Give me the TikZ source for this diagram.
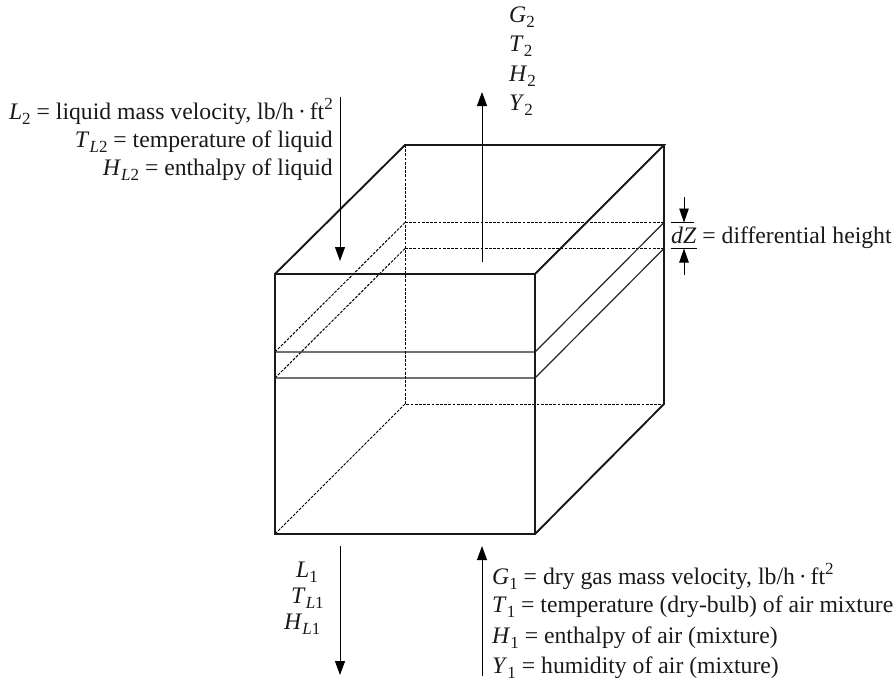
\documentclass[tikz,border=0pt]{standalone}
\usepackage{fontspec}
\setmainfont{Liberation Serif}
\usetikzlibrary{arrows.meta}
\newcommand{\sbx}[1]{\raisebox{-0.22em}{\fontsize{17}{17}\selectfont #1}}
\newcommand{\spx}[1]{\raisebox{0.42em}{\fontsize{17}{17}\selectfont #1}}
\newcommand{\itx}[1]{\textit{#1}}
\tikzset{
  edgeheavy/.style={line width=1.9pt,line join=miter,draw=black!90},
  edgelight/.style={line width=1.2pt,draw=black!85},
  hiddenline/.style={line width=1pt,dash pattern=on 2.8pt off 1.4pt},
  flow/.style={line width=1pt,-{Triangle[length=14pt,width=10pt]}},
  tick/.style={line width=0.9pt,-{Triangle[length=14pt,width=9.5pt]}},
  lab/.style={inner sep=0pt,text=black!90,font=\fontsize{23.7}{26}\selectfont},
  labe/.style={lab,anchor=base east},
  labw/.style={lab,anchor=base west},
}
\begin{document}
\begin{tikzpicture}[x=1pt,y=-1pt]
\useasboundingbox (0,0) rectangle (896,681);
% corners
\coordinate (fa) at (275,274); \coordinate (fb) at (535,274);
\coordinate (fc) at (535,534); \coordinate (fd) at (275,534);
\coordinate (ba) at (405,145); \coordinate (bb) at (664,145);
\coordinate (bc) at (664,404); \coordinate (bd) at (405,404);
\coordinate (f1l) at (275,352); \coordinate (f1r) at (535,352);
\coordinate (f2l) at (275,378); \coordinate (f2r) at (535,378);
\coordinate (b1l) at (405,222.5); \coordinate (b1r) at (664,222.5);
\coordinate (b2l) at (405,248.5); \coordinate (b2r) at (664,248.5);
% hidden
\draw[hiddenline] (ba) -- (bd) -- (bc);
\draw[hiddenline] (bd) -- (fd);
\draw[hiddenline] (b1l) -- (b1r);
\draw[hiddenline] (b2l) -- (b2r);
\draw[hiddenline] (f1l) -- (b1l);
\draw[hiddenline] (f2l) -- (b2l);
% band
\draw[edgelight] (f1l) -- (f1r) -- (b1r);
\draw[edgelight] (f2l) -- (f2r) -- (b2r);
% box
\draw[edgeheavy] (fa) rectangle (fc);
\draw[edgeheavy] (fa) -- (ba) -- (bb) -- (fb);
\draw[edgeheavy] (bb) -- (bc) -- (fc);
% flows
\coordinate (lin0) at (340,97); \coordinate (lin1) at (340,261);
\draw[flow] (lin0) -- (lin1);
\coordinate (gout0) at (482,262); \coordinate (gout1) at (482,92);
\draw[flow] (gout0) -- (gout1);
\coordinate (lout0) at (340,546); \coordinate (lout1) at (340,675);
\draw[flow] (lout0) -- (lout1);
\coordinate (gin0) at (482,676); \coordinate (gin1) at (482,546);
\draw[flow] (gin0) -- (gin1);
% dZ
\coordinate (dzt0) at (684,197); \coordinate (dzt1) at (684,222.5);
\coordinate (dzb0) at (684,275); \coordinate (dzb1) at (684,248.5);
\draw[tick] (dzt0) -- (dzt1);
\draw[tick] (dzb0) -- (dzb1);
\coordinate (dzta) at (670.5,222.5); \coordinate (dztb) at (694,222.5);
\coordinate (dzba) at (670.5,248.5); \coordinate (dzbb) at (697,248.5);
\draw[line width=1pt] (dzta) -- (dztb);
\draw[line width=1pt] (dzba) -- (dzbb);
% labels
\node[labw] (dz) at (671,243) {\itx{dZ} = differential height};
\node[labe] (l2) at (333,119) {\itx{L}\sbx{2} = liquid mass velocity, lb/h\,·\,ft\spx{2}};
\node[labe] (tl2) at (333,147) {\itx{T}\sbx{\itx{L}2} = temperature of liquid};
\node[labe] (hl2) at (333,175) {\itx{H}\sbx{\itx{L}2} = enthalpy of liquid};
\node[labw] (g2) at (509,22) {\itx{G}\sbx{2}};
\node[labw] (t2) at (509,51) {\itx{T}\sbx{2}};
\node[labw] (h2) at (509,81) {\itx{H}\sbx{2}};
\node[labw] (y2) at (509,110) {\itx{Y}\sbx{2}};
\node[labw] (l1) at (296,577) {\itx{L}\sbx{1}};
\node[labw] (tl1) at (291,603) {\itx{T}\sbx{\itx{L}1}};
\node[labw] (hl1) at (284,629) {\itx{H}\sbx{\itx{L}1}};
\node[labw] (g1) at (492,584) {\itx{G}\sbx{1} = dry gas mass velocity, lb/h\,·\,ft\spx{2}};
\node[labw] (t1) at (492,612) {\itx{T}\sbx{1} = temperature (dry-bulb) of air mixture};
\node[labw] (h1) at (492,643) {\itx{H}\sbx{1} = enthalpy of air (mixture)};
\node[labw] (y1) at (492,673) {\itx{Y}\sbx{1} = humidity of air (mixture)};
\end{tikzpicture}
\end{document}
